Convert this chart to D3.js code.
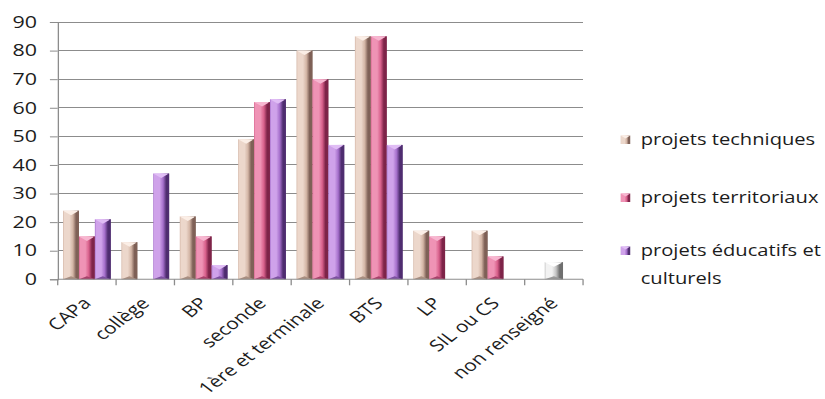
<!DOCTYPE html>
<html>
<head>
<meta charset="utf-8">
<script src="https://cdn.jsdelivr.net/npm/d3@7/dist/d3.min.js"></script>
<style>
  html, body { margin: 0; padding: 0; background: #fff; }
  svg { display: block; }
  text { font-family: "Open Sans", sans-serif; fill: #1c1c1c; }
</style>
</head>
<body>
<svg id="chart" width="825" height="399"></svg>
<script>
// Niveau de formation et types de projets
const categories = ["CAPa", "collège", "BP", "seconde", "1ère et terminale", "BTS", "LP", "SIL ou CS", "non renseigné"];
const projetsTechniques   = [24, 13, 22, 49, 80, 85, 17, 17, 0];
const projetsTerritoriaux = [15, 0, 15, 62, 70, 85, 15, 8, 0];
const projetsEducatifs    = [21, 37, 5, 63, 47, 47, 0, 0, 0];
const nonRenseigne        = [0, 0, 0, 0, 0, 0, 0, 0, 6];
const seriesNames = ["projets techniques", "projets territoriaux", "projets éducatifs et culturels"];
const yTicks = [0, 10, 20, 30, 40, 50, 60, 70, 80, 90];

// colour sets: light / base / dark / top facet / bottom facet
const palettes = {
  tech:  { light: "#ecd7cb", base: "#d3b5a5", dark: "#7f6157", top: "#fbeee6", bottom: "#a98e80" },
  terr:  { light: "#ef93b5", base: "#d8608b", dark: "#7e2449", top: "#f7b6d0", bottom: "#a8406a" },
  edu:   { light: "#cfa2ea", base: "#a56fcb", dark: "#4f2d70", top: "#e0bdf5", bottom: "#7c4fa0" },
  gray:  { light: "#f2f2f2", base: "#c4c4c4", dark: "#6f6f6f", top: "#ffffff", bottom: "#9a9a9a" }
};

const series = [
  { key: "tech", name: seriesNames[0], values: projetsTechniques },
  { key: "terr", name: seriesNames[1], values: projetsTerritoriaux },
  { key: "edu",  name: seriesNames[2], values: projetsEducatifs }
];

const SX = 1.3;                 // horizontal stretch of the whole drawing
const W = 825 / SX, H = 399;
const plot = { left: 44.4, right: 448.5, top: 22, bottom: 279.3 };

const svg = d3.select("#chart");
const defs = svg.append("defs");

Object.entries(palettes).forEach(([k, p]) => {
  const g = defs.append("linearGradient").attr("id", "grad-" + k)
    .attr("x1", "0").attr("y1", "0").attr("x2", "1").attr("y2", "0");
  [[0, p.base], [0.08, p.light], [0.4, p.light], [0.62, p.base], [0.82, p.dark], [1, p.dark]]
    .forEach(([o, c]) => g.append("stop").attr("offset", o).attr("stop-color", c));
});

const root = svg.append("g").attr("transform", `scale(${SX},1)`);

const x = d3.scaleBand().domain(categories).range([plot.left, plot.right]).padding(0);
const xs = d3.scaleBand().domain(series.map(s => s.key)).range([0, x.bandwidth()])
  .paddingInner(0).paddingOuter(0.335);
const y = d3.scaleLinear().domain([0, 90]).range([plot.bottom, plot.top]);

// gridlines
root.append("g").selectAll("line").data(yTicks.filter(t => t > 0)).join("line")
  .attr("x1", plot.left).attr("x2", plot.right)
  .attr("y1", d => y(d)).attr("y2", d => y(d))
  .attr("stroke", "#8c8c8c").attr("stroke-width", 1).attr("shape-rendering", "crispEdges");

// y axis
const yAxis = root.append("g").attr("transform", `translate(${plot.left},0)`)
  .call(d3.axisLeft(y).tickValues(yTicks).tickSize(6).tickPadding(10));
yAxis.select(".domain").attr("stroke", "#8c8c8c");
yAxis.selectAll(".tick line").attr("stroke", "#8c8c8c");
yAxis.selectAll(".tick text").attr("font-size", 16.5).attr("fill", "#1c1c1c")
  .attr("font-family", "'Open Sans', sans-serif");

// bars with bevelled faces
function bar(g, x0, w, v, key) {
  if (!v) return;
  const p = palettes[key];
  const y0 = y(v), y1 = y(0);
  const bevel = Math.min(4.5, (y1 - y0) / 2);
  const xc = x0 + w / 2;
  g.append("rect").attr("x", x0).attr("y", y0).attr("width", w).attr("height", y1 - y0)
    .attr("fill", `url(#grad-${key})`);
  g.append("path").attr("d", `M${x0},${y0}L${x0 + w},${y0}L${xc},${y0 + bevel}Z`).attr("fill", p.top);
  g.append("path").attr("d", `M${x0},${y1}L${x0 + w},${y1}L${xc},${y1 - bevel * 0.7}Z`).attr("fill", p.bottom);
  g.append("rect").attr("x", x0 + w - 1.2).attr("y", y0).attr("width", 1.2).attr("height", y1 - y0)
    .attr("fill", p.dark).attr("opacity", 0.8);
}

const bars = root.append("g");
series.forEach(s => {
  s.values.forEach((v, i) => bar(bars, x(categories[i]) + xs(s.key), xs.bandwidth(), v, s.key));
});
nonRenseigne.forEach((v, i) => {
  const w = xs.bandwidth() * 1.15;
  bar(bars, x(categories[i]) + x.bandwidth() / 2 - w / 2, w, v, "gray");
});

// x axis with ticks between categories
const xAxis = root.append("g");
xAxis.append("line").attr("x1", plot.left).attr("x2", plot.right)
  .attr("y1", plot.bottom).attr("y2", plot.bottom).attr("stroke", "#8c8c8c");
const bounds = categories.map(c => x(c)).concat([x(categories[categories.length - 1]) + x.bandwidth()]);
xAxis.selectAll("line.tk").data(bounds).join("line").attr("class", "tk")
  .attr("x1", d => d).attr("x2", d => d).attr("y1", plot.bottom).attr("y2", plot.bottom + 6)
  .attr("stroke", "#8c8c8c");
xAxis.selectAll("text").data(categories).join("text")
  .attr("transform", d => `translate(${x(d) + x.bandwidth() / 2 + 4},${plot.bottom + 25}) rotate(-45)`)
  .attr("text-anchor", "end").attr("font-size", 16).text(d => d);

// legend
const legend = root.append("g");
const legendRows = [
  { key: "tech", lines: ["projets techniques"], y: 145 },
  { key: "terr", lines: ["projets territoriaux"], y: 203 },
  { key: "edu",  lines: ["projets éducatifs et", "culturels"], y: 256 }
];
legendRows.forEach(r => {
  const p = palettes[r.key];
  const mx = 477.5, mw = 7.3, mh = 8.5, my = r.y - 9.5;
  legend.append("rect").attr("x", mx).attr("y", my).attr("width", mw).attr("height", mh)
    .attr("fill", `url(#grad-${r.key})`);
  legend.append("path").attr("d", `M${mx},${my}L${mx + mw},${my}L${mx + mw / 2},${my + 3}Z`).attr("fill", p.top);
  const t = legend.append("text").attr("x", 492.8).attr("y", r.y).attr("font-size", 15.5);
  r.lines.forEach((l, i) => t.append("tspan").attr("x", 492.8).attr("dy", i ? 28 : 0).text(l));
});
</script>
</body>
</html>
